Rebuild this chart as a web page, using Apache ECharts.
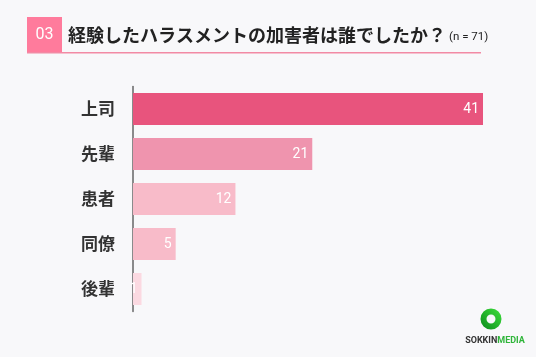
<!DOCTYPE html>
<html><head><meta charset="utf-8">
<script src="https://cdn.jsdelivr.net/npm/echarts@6/dist/echarts.min.js"></script>
<style>html,body{margin:0;padding:0;background:#f8f8fa;}#c{width:536px;height:357px;}</style>
</head><body><div id="c"></div>
<script>
const categories = ['上司','先輩','患者','同僚','後輩'];
const values = [41, 21, 12, 5, 1];
const barColors = ['#e8547d','#ef94ae','#f8bbc9','#f8bbc9','#fbd9e1'];
const titleText = '経験したハラスメントの加害者は誰でしたか？';
const noteText = '(n = 71)';
const numberText = '03';

const chart = echarts.init(document.getElementById('c'));
const F = '"Noto Sans CJK JP","Noto Sans",sans-serif';
chart.setOption({
  backgroundColor: '#f8f8fa',
  animation: false,
  grid: { left: 133, right: 53, top: 86.5, height: 225 },
  xAxis: { type: 'value', min: 0, max: 41, show: false },
  yAxis: {
    type: 'category', data: categories, inverse: true,
    axisLine: { show: true, lineStyle: { color: '#666', width: 1.5 } },
    axisTick: { show: false },
    axisLabel: { margin: 18, fontSize: 17, fontWeight: 'bold', color: '#333', fontFamily: F }
  },
  series: [{
    type: 'bar', barCategoryGap: '29%',
    data: values.map((v, i) => ({ value: v, itemStyle: { color: barColors[i] } })),
    label: { show: true, position: 'insideRight', distance: 4, color: '#fff', fontSize: 14, fontFamily: 'Roboto, sans-serif' }
  }],
  graphic: [
    { type: 'rect', shape: { x: 27, y: 17, width: 35, height: 36 }, style: { fill: '#ff7b9c' } },
    { type: 'text', style: { x: 44.5, y: 35, text: numberText, fill: '#fff', fontSize: 16, fontFamily: 'Roboto, sans-serif', align: 'center', verticalAlign: 'middle' } },
    { type: 'rect', shape: { x: 27, y: 52, width: 454, height: 1.5 }, style: { fill: '#f28aa4' } },
    { type: 'text', style: { x: 68, y: 35, text: titleText, fill: '#222', fontSize: 18, fontWeight: 'bold', fontFamily: F, verticalAlign: 'middle' } },
    { type: 'text', style: { x: 449, y: 37, text: noteText, fill: '#222', fontSize: 11.5, fontFamily: 'Roboto, sans-serif', verticalAlign: 'middle' } },
    { type: 'circle', shape: { cx: 491, cy: 319, r: 7.5 }, style: { fill: 'none', lineWidth: 6,
      stroke: new echarts.graphic.LinearGradient(0, 1, 1, 0, [{ offset: 0, color: '#0b8a1c' }, { offset: 1, color: '#3fe03c' }]) } },
    { type: 'text', style: { x: 495, y: 341, text: '{a|SOKKIN}{b|MEDIA}', align: 'center', verticalAlign: 'middle',
      rich: { a: { fill: '#333', fontSize: 9, fontWeight: 'bold', fontFamily: 'Roboto, sans-serif' },
              b: { fill: '#2fb53a', fontSize: 9, fontWeight: 'bold', fontFamily: 'Roboto, sans-serif' } } } }
  ]
});
</script></body></html>
